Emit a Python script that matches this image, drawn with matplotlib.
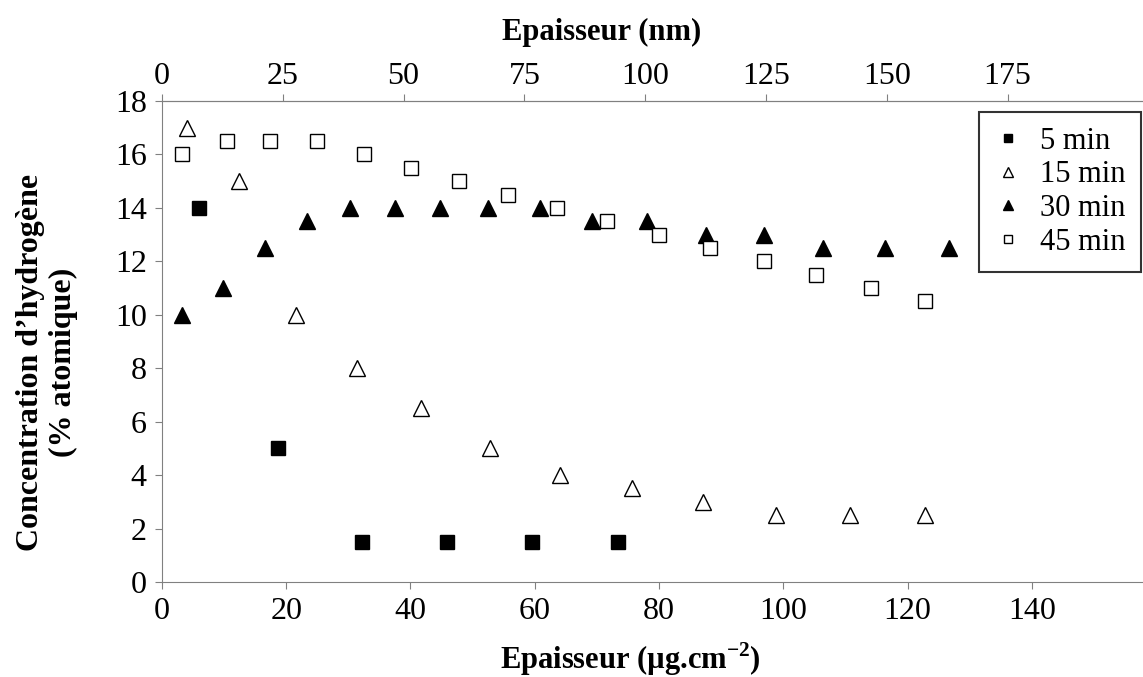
import matplotlib
matplotlib.use("Agg")
import matplotlib.pyplot as plt

# data (x in ug.cm-2, y in % atomique)
x_5 = [6.0, 18.7, 32.2, 45.9, 59.5, 73.4]
y_5 = [14, 5, 1.5, 1.5, 1.5, 1.5]

x_15 = [4.0, 12.4, 21.6, 31.4, 41.7, 52.8, 64.0, 75.6, 87.1, 98.8, 110.7, 122.8]
y_15 = [17, 15, 10, 8, 6.5, 5, 4, 3.5, 3, 2.5, 2.5, 2.5]

x_30 = [3.2, 9.8, 16.6, 23.3, 30.3, 37.5, 44.7, 52.5, 60.8, 69.2, 78.0, 87.5,
        96.9, 106.4, 116.3, 126.6]
y_30 = [10, 11, 12.5, 13.5, 14, 14, 14, 14, 14, 13.5, 13.5, 13, 13, 12.5, 12.5, 12.5]

x_45 = [3.2, 10.5, 17.4, 24.9, 32.5, 40.1, 47.8, 55.7, 63.6, 71.6, 80.0, 88.2,
        96.9, 105.2, 114.1, 122.8]
y_45 = [16, 16.5, 16.5, 16.5, 16, 15.5, 15, 14.5, 14, 13.5, 13, 12.5, 12, 11.5, 11, 10.5]

bottom_ticks = [0, 20, 40, 60, 80, 100, 120, 140]
top_ticks = [0, 25, 50, 75, 100, 125, 150, 175]
y_ticks = [0, 2, 4, 6, 8, 10, 12, 14, 16, 18]

plt.rcParams['font.family'] = ['Liberation Serif', 'DejaVu Serif']
plt.rcParams['mathtext.fontset'] = 'custom'
plt.rcParams['mathtext.bf'] = 'Liberation Serif:bold'
plt.rcParams['mathtext.rm'] = 'Liberation Serif'

fig = plt.figure(figsize=(11.43, 6.77), dpi=100)
ax = fig.add_axes([0.1417, 0.1403, 0.8583, 0.7105])

ms = 10
ax.plot(x_5, y_5, 's', color='black', ms=ms, label='5 min', clip_on=False)
ax.plot(x_15, y_15, '^', mfc='white', mec='black', mew=1, ms=ms + 1, label='15 min', clip_on=False)
ax.plot(x_30, y_30, '^', color='black', ms=ms + 1, label='30 min', clip_on=False)
ax.plot(x_45, y_45, 's', mfc='white', mec='black', mew=1, ms=ms, label='45 min', clip_on=False)

ax.set_xlim(0, 157.9)
ax.set_ylim(0, 18)
ax.set_xticks(bottom_ticks)
ax.set_yticks(y_ticks)
ax.tick_params(labelsize=23, direction='out', length=5, color='#808080', pad=6)

ax.spines['right'].set_visible(False)
for s in ['left', 'bottom', 'top']:
    ax.spines[s].set_color('#808080')

ax.set_xlabel('Epaisseur (µg.cm$^{\\mathbf{-2}}$)', fontsize=22, fontweight='bold')
ax.xaxis.set_label_coords(0.478, -0.121)
ax.set_ylabel('Concentration d\u2019hydrogène\n(% atomique)', fontsize=23,
              fontweight='bold', linespacing=1.15)
ax.yaxis.set_label_coords(-0.086, 0.457)

# top axis in nm
ax2 = ax.twiny()
ax2.set_xlim(0, 203)
ax2.set_xticks(top_ticks)
ax2.tick_params(labelsize=23, direction='out', length=5, color='#808080', pad=2)
for s in ['right', 'left', 'bottom']:
    ax2.spines[s].set_visible(False)
ax2.spines['top'].set_color('#808080')
ax2.set_xlabel('Epaisseur (nm)', fontsize=22, fontweight='bold')
ax2.xaxis.set_label_coords(0.448, 1.126)

leg = ax.legend(loc='upper right', bbox_to_anchor=(0.998, 0.978), fontsize=22,
                markerscale=0.6, frameon=True, fancybox=False, handlelength=0.9,
                handletextpad=0.6, labelspacing=0.15, borderpad=0.5,
                borderaxespad=0)
leg.get_frame().set_edgecolor('black')
leg.get_frame().set_linewidth(1.5)

fig.savefig('out.png', dpi=100)
